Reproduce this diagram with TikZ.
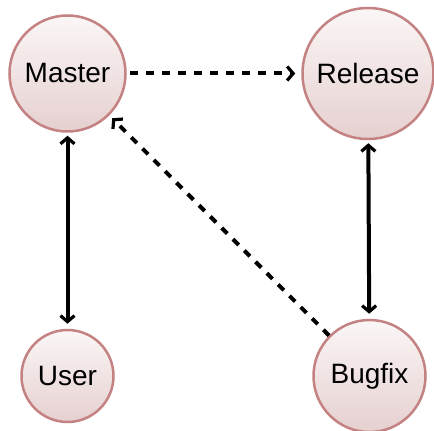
\documentclass[tikz,border=0pt]{standalone}
\usepackage{fontspec}
\setmainfont{Liberation Sans}
\usetikzlibrary{arrows.meta}
\definecolor{nodestroke}{RGB}{196,130,130}
\definecolor{nodetop}{RGB}{251,246,246}
\definecolor{nodebottom}{RGB}{230,208,208}
\tikzset{
  state/.style={circle, draw=nodestroke, line width=2.5pt, inner sep=0pt,
    top color=nodetop, bottom color=nodebottom, font=\fontsize{28}{32}\selectfont},
  link/.style={line width=4pt, -{Straight Barb[length=6pt,width=14pt,line width=3.2pt]}},
  dlink/.style={link, dash pattern=on 8pt off 8pt},
  both/.style={line width=4pt, {Straight Barb[length=6pt,width=14pt,line width=3.2pt]}-{Straight Barb[length=6pt,width=14pt,line width=3.2pt]}}
}
\begin{document}
\begin{tikzpicture}[x=1pt,y=1pt]
\useasboundingbox (0,0) rectangle (434,431);
\node[state, minimum size=116pt] (master) at (67.5,357.5) {Master};
\node[state, minimum size=131pt] (release) at (368,357.5) {Release};
\node[state, minimum size=92pt] (user) at (67.5,55) {User};
\node[state, minimum size=112pt] (bugfix) at (369.5,55) {Bugfix};
\draw[dlink, shorten <=3pt, shorten >=6pt] (master) -- (release);
\draw[both, shorten <=3pt, shorten >=5pt] (master) -- (user);
\draw[both, shorten <=3pt, shorten >=5pt] (release) -- (bugfix);
\draw[dlink, shorten <=0pt, shorten >=4pt] (bugfix) -- (master);
\end{tikzpicture}
\end{document}
